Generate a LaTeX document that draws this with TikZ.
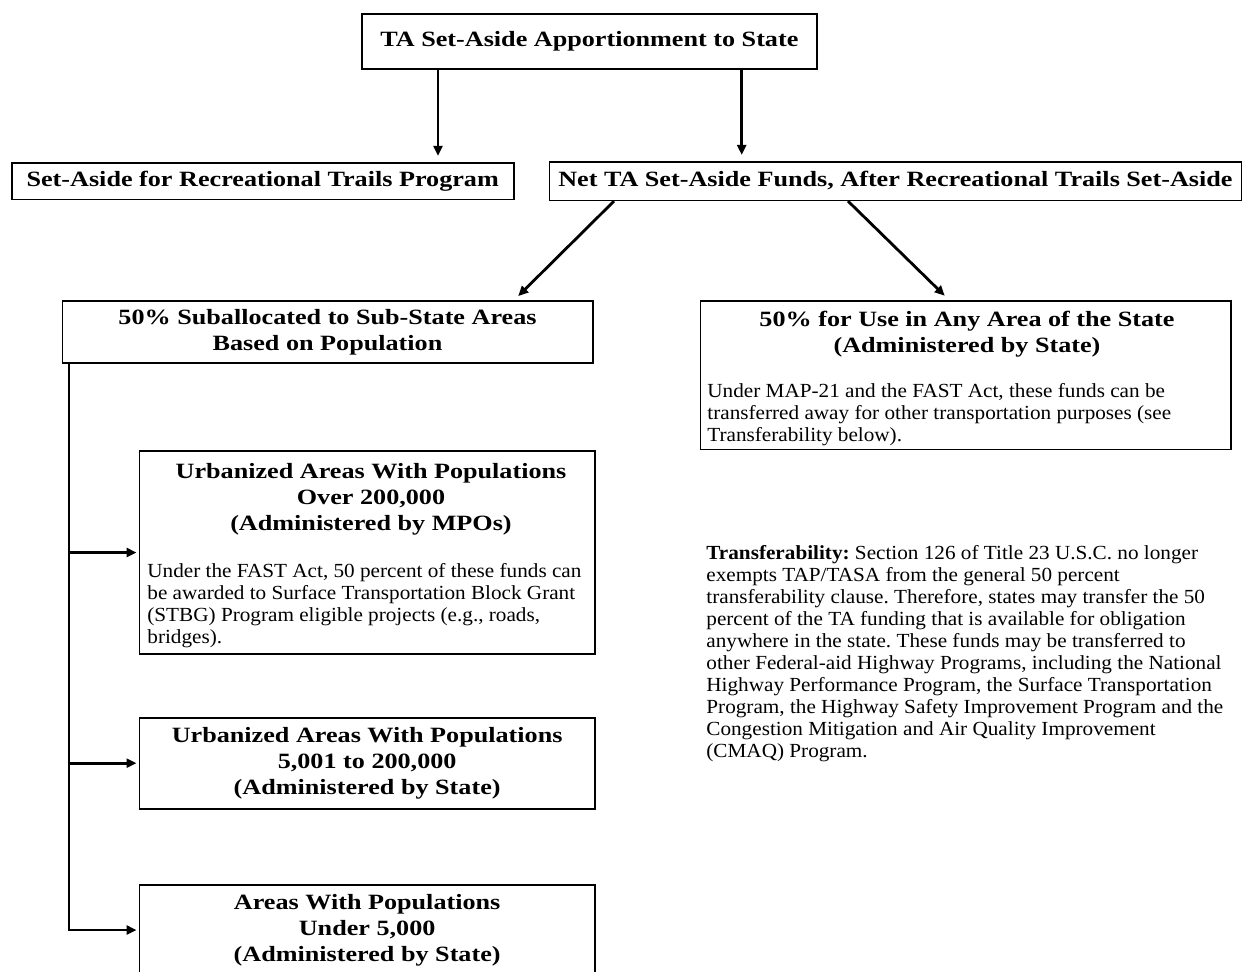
\documentclass[tikz,border=0pt]{standalone}
\usepackage{fontspec}
\setmainfont{Liberation Serif}[FakeStretch=1.06]
\newfontfamily\headfont{Liberation Serif}[FakeStretch=1.2]
\usetikzlibrary{calc,positioning,arrows.meta}

\begin{document}
\frenchspacing
\begin{tikzpicture}[x=0.5pt,y=-0.5pt,
  box/.style={draw,line width=0.8pt,inner sep=0pt,align=center,font=\headfont\bfseries\fontsize{10.9}{13}\selectfont},
  head/.style={inner sep=0pt,align=center,font=\headfont\bfseries\fontsize{10.9}{13}\selectfont},
  txt/.style={inner sep=0pt,align=left,anchor=north west,font=\fontsize{10}{11}\selectfont},
  arr/.style={-{Triangle[length=5pt,width=4.5pt]},line width=1.4pt,shorten >=3pt}]
  \clip (0,0) rectangle (1243,971);

  % top row
  \node[box,minimum width=227.7pt,minimum height=27.5pt] (top) at (589.4,41.5) {TA Set-Aside Apportionment to State};
  \node[box,minimum width=251pt,minimum height=18.3pt] (rt) at (262.7,181) {Set-Aside for Recreational Trails Program};
  \node[box,minimum width=346.1pt,minimum height=19.3pt] (net) at (895.4,181) {Net TA Set-Aside Funds, After Recreational Trails Set-Aside};

  % the two halves
  \node[box,minimum width=265.2pt,minimum height=30.85pt] (sub) at (327.5,331.9) {50\% Suballocated to Sub-State Areas\\Based on Population};
  \node[box,minimum width=265.35pt,minimum height=74.3pt] (use) at (965.65,375) {};
  \node[head] (useh) at (967,334.5) {50\% for Use in Any Area of the State\\(Administered by State)};
  \node[txt] (uset) at (707,383) {Under MAP-21 and the FAST Act, these funds can be\\
    transferred away for other transportation purposes (see\\
    Transferability below).};

  % sub-state areas
  \node[box,minimum width=227.85pt,minimum height=101.5pt] (urb1) at (367.15,552.5) {};
  \node[head] (urb1h) at (371,499.5) {Urbanized Areas With Populations\\Over 200,000\\(Administered by MPOs)};
  \node[txt] (urb1t) at (147,563) {Under the FAST Act, 50 percent of these funds can\\
    be awarded to Surface Transportation Block Grant\\
    (STBG) Program eligible projects (e.g., roads,\\
    bridges).};
  \node[box,minimum width=227.85pt,minimum height=45.5pt] (urb2) at (367.15,763.2) {Urbanized Areas With Populations\\5,001 to 200,000\\(Administered by State)};
  \node[box,minimum width=227.85pt,minimum height=45pt] (urb3) at (367.15,930) {Areas With Populations\\Under 5,000\\(Administered by State)};

  \node[txt] (trans) at (706,545.5) {\textbf{Transferability:} Section 126 of Title 23 U.S.C. no longer\\
    exempts TAP/TASA from the general 50 percent\\
    transferability clause. Therefore, states may transfer the 50\\
    percent of the TA funding that is available for obligation\\
    anywhere in the state. These funds may be transferred to\\
    other Federal-aid Highway Programs, including the National\\
    Highway Performance Program, the Surface Transportation\\
    Program, the Highway Safety Improvement Program and the\\
    Congestion Mitigation and Air Quality Improvement\\
    (CMAQ) Program.};

  \coordinate (a1) at (438,0);
  \coordinate (a2) at (741.7,0);
  \coordinate (d1) at (614,0);
  \coordinate (d2) at (514,0);
  \coordinate (d3) at (848,0);
  \coordinate (d4) at (949,0);
  \coordinate (sp) at (69,0);

  \draw[arr] (top.south -| a1) -- (rt.north -| a1);
  \draw[arr] (top.south -| a2) -- (net.north -| a2);
  \draw[arr] (net.south -| d1) -- (sub.north -| d2);
  \draw[arr] (net.south -| d3) -- (use.north -| d4);

  \draw[arr,shorten >=1pt] (sub.south -| sp) |- (urb3.west);
  \draw[arr,shorten >=1pt] (sp |- urb1.west) -- (urb1.west);
  \draw[arr,shorten >=1pt] (sp |- urb2.west) -- (urb2.west);
\end{tikzpicture}
\end{document}
